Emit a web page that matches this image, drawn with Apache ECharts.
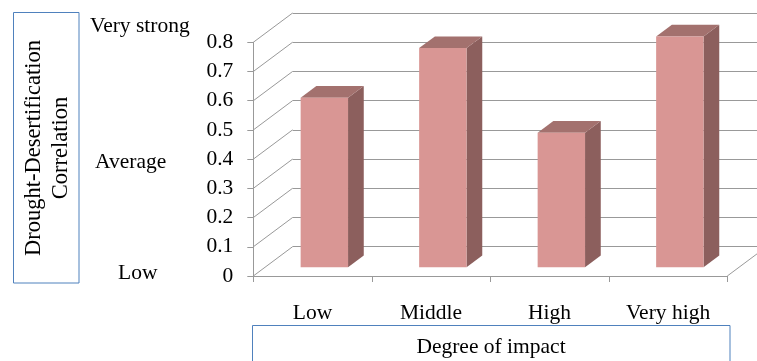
<!DOCTYPE html>
<html>
<head>
<meta charset="utf-8">
<script src="https://cdn.jsdelivr.net/npm/echarts@6/dist/echarts.min.js"></script>
<style>
  html, body { margin: 0; padding: 0; background: #fff; }
  #chart { width: 757px; height: 361px; }
</style>
</head>
<body>
<div id="chart"></div>
<script>
  // data
  const categories = ['Low', 'Middle', 'High', 'Very high'];
  const correlation = [0.58, 0.75, 0.46, 0.79];
  const yTicks = [0, 0.1, 0.2, 0.3, 0.4, 0.5, 0.6, 0.7, 0.8];
  const levelLabels = ['Very strong', 'Average', 'Low'];
  const yTitle = 'Drought-Desertification\nCorrelation';
  const xTitle = 'Degree of impact';

  // 3d look: offset of the back wall from the front plane
  const DX = 39.3, DY = -29.3;
  const FONT = '"Liberation Serif", "Times New Roman", serif';
  const FS = 21.5;
  const GRID_COLOR = '#999';
  const BOX_COLOR = '#4F81BD';

  const chart = echarts.init(document.getElementById('chart'));

  function renderBar(params, api) {
    const i = api.value(0), v = api.value(1);
    const base = api.coord([i, 0]);
    const top = api.coord([i, v]);
    const w = api.size([1, 0])[0] * 0.4;
    const fx = DX * 0.3, fy = DY * 0.3, bx = DX * 0.4, by = DY * 0.4;
    const x0 = base[0] - w / 2 + fx, x1 = x0 + w;
    const y0 = base[1] + fy, y1 = top[1] + fy;
    return {
      type: 'group',
      children: [
        {
          type: 'polygon',
          shape: { points: [[x1, y1], [x1 + bx, y1 + by], [x1 + bx, y0 + by], [x1, y0]] },
          style: { fill: '#8C5F5D' }
        },
        {
          type: 'polygon',
          shape: { points: [[x0, y1], [x1, y1], [x1 + bx, y1 + by], [x0 + bx, y1 + by]] },
          style: { fill: '#A3716E' }
        },
        {
          type: 'rect',
          shape: { x: x0, y: y1, width: w, height: y0 - y1 },
          style: { fill: '#D99694' }
        }
      ]
    };
  }

  function renderDiagonal(params, api) {
    const cs = params.coordSys;
    const y = api.coord([0, api.value(1)])[1];
    const children = [{
      type: 'line',
      shape: { x1: cs.x, y1: y, x2: cs.x + DX, y2: y + DY },
      style: { stroke: GRID_COLOR, lineWidth: 1 }
    }];
    if (api.value(1) === 0) {
      children.push({
        type: 'line',
        shape: { x1: cs.x + cs.width, y1: y, x2: cs.x + cs.width + DX, y2: y + DY },
        style: { stroke: GRID_COLOR, lineWidth: 1 }
      });
    }
    return { type: 'group', children: children };
  }

  const option = {
    backgroundColor: '#fff',
    animation: false,
    textStyle: { fontFamily: FONT },
    grid: [
      { left: 253.3, width: 474, top: 42.3, height: 233.7 },
      { left: 292.6, width: 480, top: 13, height: 233.7 }
    ],
    xAxis: [
      {
        type: 'category',
        gridIndex: 0,
        data: categories,
        axisLine: { lineStyle: { color: GRID_COLOR } },
        axisTick: { show: true, length: 6, alignWithLabel: false, lineStyle: { color: GRID_COLOR } },
        axisLabel: { color: '#000', fontSize: FS, fontFamily: FONT, margin: 26, interval: 0 }
      },
      { type: 'value', gridIndex: 1, show: false, min: 0, max: 1 }
    ],
    yAxis: [
      {
        type: 'value',
        gridIndex: 0,
        min: 0, max: 0.8, interval: 0.1,
        axisLine: { show: true, lineStyle: { color: GRID_COLOR } },
        axisTick: { show: true, length: 6, lineStyle: { color: GRID_COLOR } },
        axisLabel: { color: '#000', fontSize: FS, fontFamily: FONT, margin: 20 },
        splitLine: { show: false }
      },
      {
        type: 'value',
        gridIndex: 1,
        min: 0, max: 0.8, interval: 0.1,
        axisLine: { show: false },
        axisTick: { show: false },
        axisLabel: { show: false },
        splitLine: { show: true, lineStyle: { color: GRID_COLOR, width: 1 } }
      }
    ],
    series: [
      {
        type: 'custom',
        xAxisIndex: 0, yAxisIndex: 0,
        renderItem: renderDiagonal,
        data: yTicks.map(v => [0, v]),
        silent: true,
        z: 1
      },
      {
        type: 'custom',
        xAxisIndex: 0, yAxisIndex: 0,
        renderItem: renderBar,
        data: correlation.map((v, i) => [i, v]),
        encode: { x: 0, y: 1 },
        z: 5
      }
    ],
    graphic: [
      {
        type: 'rect',
        shape: { x: 13.5, y: 12.5, width: 65.5, height: 270.5 },
        style: { fill: 'none', stroke: BOX_COLOR, lineWidth: 1 }
      },
      {
        type: 'text',
        x: 48, y: 148,
        rotation: Math.PI / 2,
        style: {
          text: yTitle, font: '22.5px ' + FONT, fill: '#000',
          textAlign: 'center', textVerticalAlign: 'middle', lineHeight: 27
        }
      },
      {
        type: 'text', x: 90, y: 26,
        style: { text: levelLabels[0], font: FS + 'px ' + FONT, fill: '#000', textVerticalAlign: 'middle' }
      },
      {
        type: 'text', x: 95, y: 162,
        style: { text: levelLabels[1], font: FS + 'px ' + FONT, fill: '#000', textVerticalAlign: 'middle' }
      },
      {
        type: 'text', x: 118, y: 273,
        style: { text: levelLabels[2], font: FS + 'px ' + FONT, fill: '#000', textVerticalAlign: 'middle' }
      },
      {
        type: 'rect',
        shape: { x: 252.5, y: 325.5, width: 477.5, height: 50 },
        style: { fill: 'none', stroke: BOX_COLOR, lineWidth: 1 }
      },
      {
        type: 'text', x: 491, y: 347,
        style: { text: xTitle, font: FS + 'px ' + FONT, fill: '#000', textAlign: 'center', textVerticalAlign: 'middle' }
      }
    ]
  };

  chart.setOption(option);
</script>
</body>
</html>
